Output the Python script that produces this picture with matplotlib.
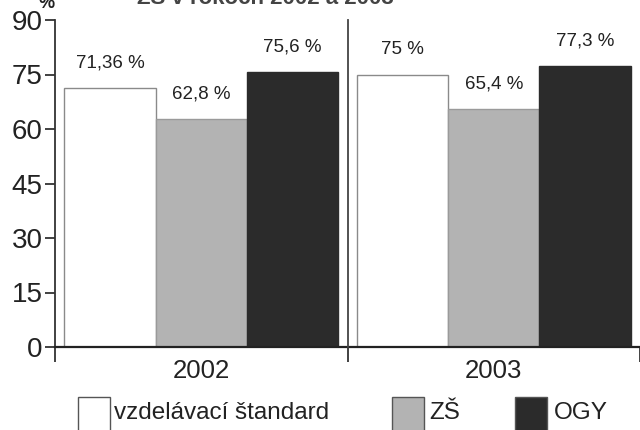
import matplotlib
matplotlib.use("Agg")
import matplotlib.pyplot as plt
from matplotlib.patches import Rectangle
import numpy as np

plt.rcParams['font.family'] = ['Liberation Sans', 'DejaVu Sans']

years = ["2002", "2003"]
series = ["vzdelávací štandard", "ZŠ", "OGY"]
values = {
    "vzdelávací štandard": [71.36, 75.0],
    "ZŠ": [62.8, 65.4],
    "OGY": [75.6, 77.3],
}
value_labels = {
    "vzdelávací štandard": ["71,36 %", "75 %"],
    "ZŠ": ["62,8 %", "65,4 %"],
    "OGY": ["75,6 %", "77,3 %"],
}
yticks = [0, 15, 30, 45, 60, 75, 90]
title = "ZŠ v rokoch 2002 a 2003"

face = {"vzdelávací štandard": "#ffffff", "ZŠ": "#b3b3b3", "OGY": "#2b2b2b"}
edge = {"vzdelávací štandard": "#8a8a8a", "ZŠ": "#9a9a9a", "OGY": "#2b2b2b"}

W, H = 640, 430
fig = plt.figure(figsize=(W / 100, H / 100), dpi=100)
ax = fig.add_axes([55 / W, 1 - 347 / H, 1 - 55 / W, (347 - 20) / H])

bw = 0.312
centers = np.arange(len(years)) + 0.5
for i, s in enumerate(series):
    xs = centers + (i - 1) * bw
    ax.bar(xs, values[s], width=bw, color=face[s], edgecolor=edge[s],
           linewidth=1.0, zorder=2)
    for x, v, lab in zip(xs, values[s], value_labels[s]):
        ax.annotate(lab, (x, v), xytext=(0, 18), textcoords="offset points",
                    ha="center", va="center", fontsize=13.5, color="#222222")

ax.set_xlim(0, len(years))
ax.set_ylim(0, 90)
ax.set_yticks(yticks)
ax.set_yticklabels([str(t) for t in yticks], fontsize=20, color="#222222")
ax.set_xticks(np.arange(len(years) + 1))
ax.set_xticklabels([])
ax.set_xticks(centers, minor=True)
ax.set_xticklabels(years, minor=True, fontsize=18.5, color="#222222")
ax.tick_params(axis="x", which="major", direction="out", length=11, width=1.3,
               color="#333333")
ax.tick_params(axis="x", which="minor", length=0, pad=9)
ax.tick_params(axis="y", direction="out", length=7, width=1.3,
               color="#333333", pad=2)

for sp in ("top", "right"):
    ax.spines[sp].set_visible(False)
ax.spines["left"].set_color("#333333")
ax.spines["left"].set_linewidth(1.3)
ax.spines["bottom"].set_color("#222222")
ax.spines["bottom"].set_linewidth(1.6)

# group separator
ax.plot([1, 1], [0, 90], color="#444444", lw=1.3, zorder=3, clip_on=False)

# title and unit label sit at the very top edge
fig.text(265 / W, 1 - 4 / H, title, ha="center", va="baseline",
         fontsize=16, fontweight="bold", color="#444444")
fig.text(47 / W, 1 - 8 / H, "%", ha="center", va="baseline",
         fontsize=13, fontweight="bold", color="#222222")

# legend drawn below the axis
legend_items = [
    ("vzdelávací štandard", 78, 114),
    ("ZŠ", 392, 429),
    ("OGY", 515, 554),
]
box_w, box_top = 32, 397
for s, bx, tx in legend_items:
    fig.add_artist(Rectangle((bx / W, 1 - (box_top + 40) / H), box_w / W, 40 / H,
                             transform=fig.transFigure, facecolor=face[s],
                             edgecolor="#555555", linewidth=1.0))
    fig.text(tx / W, 1 - 413 / H, s, ha="left", va="center",
             fontsize=17.5, color="#222222")

fig.savefig("out.png", dpi=100)
